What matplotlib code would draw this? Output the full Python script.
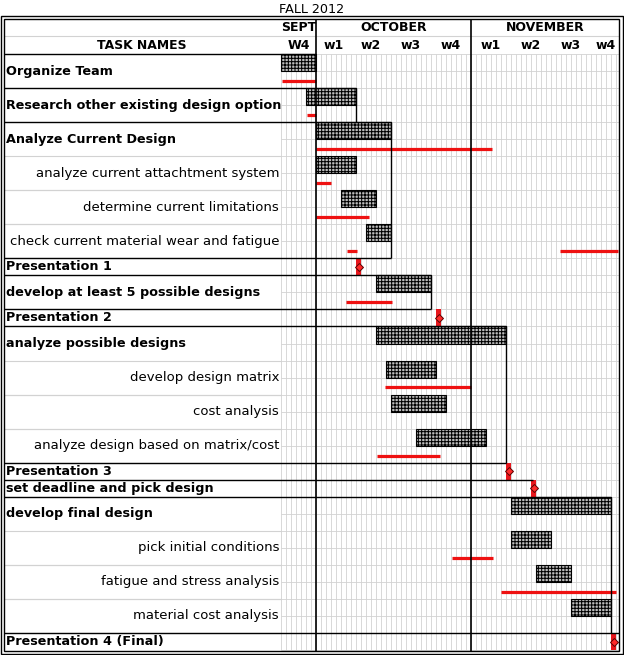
import matplotlib
matplotlib.use('Agg')
import matplotlib.pyplot as plt
import numpy as np

plt.rcParams.update({
    'font.family': 'DejaVu Sans',
    'hatch.linewidth': 0.75,
})

# ---- data -------------------------------------------------------------
# days counted from Sept 24 (start of SEPT W4)
tasks = [
    'Organize Team', 'Research other existing design option', 'Analyze Current Design',
    'analyze current attachtment system', 'determine current limitations',
    'check current material wear and fatigue', 'Presentation 1',
    'develop at least 5 possible designs', 'Presentation 2', 'analyze possible designs',
    'develop design matrix', 'cost analysis', 'analyze design based on matrix/cost',
    'Presentation 3', 'set deadline and pick design', 'develop final design',
    'pick initial conditions', 'fatigue and stress analysis', 'material cost analysis',
    'Presentation 4 (Final)',
]
is_main = [1, 1, 1, 0, 0, 0, 1, 1, 1, 1, 0, 0, 0, 1, 1, 1, 0, 0, 0, 1]
row_span = [2, 2, 2, 2, 2, 2, 1, 2, 1, 2, 2, 2, 2, 1, 1, 2, 2, 2, 2, 1]

plan_start = [0, 5, 7, 7, 12, 17, None, 19, None, 19, 21, 22, 27, None, None, 46, 46, 51, 58, None]
plan_end   = [7, 15, 22, 15, 19, 22, None, 30, None, 45, 31, 33, 41, None, None, 66, 54, 58, 66, None]

milestone_task = [6, 8, 13, 14, 19]
milestone_day  = [15, 31, 45, 50, 66]

actual = {
    0: [(0.2, 7)],
    1: [(5.2, 7)],
    2: [(7, 42.2)],
    3: [(7, 10)],
    4: [(7, 17.6)],
    5: [(13.2, 15.2), (55.8, 67.4)],
    7: [(13, 22.2)],
    10: [(20.8, 38)],
    12: [(19.2, 31.8)],
    16: [(34.2, 42.4)],
    17: [(44, 67)],
}

months = ['SEPT', 'OCTOBER', 'NOVEMBER']
month_bounds = [0, 7, 38, 67.6]
week_labels = ['W4', 'w1', 'w2', 'w3', 'w4', 'w1', 'w2', 'w3', 'w4']
week_pos = [3.5, 10.6, 18, 26, 34, 42, 50, 58, 65]

# black cell borders drawn on the sheet
sep_rows = [0, 2, 4, 12, 13, 15, 16, 24, 25, 26, 34]
sep_ends = [7, 15, 22, 22, 30, 30, 45, 45, 50.4, 66, 67.6]
box_day = [15, 22, 30, 45, 66]
box_top = [2, 4, 13, 16, 26]
box_bot = [4, 12, 15, 24, 34]

# ---- layout -----------------------------------------------------------
row_top = np.concatenate([[0], np.cumsum(row_span)[:-1]])
n_rows = int(np.sum(row_span))
LEFT, RIGHT = -55.4, 67.6          # inner border
TOP, BOTTOM = -2.06, n_rows + 0.06
HDR_MID = -1.06

fig = plt.figure(figsize=(6.24, 6.55), dpi=100)
ax = fig.add_axes([0, 0, 1, 1])
ax.set_xlim(-56.2, 68.6)
ax.set_ylim(35.29, -3.17)
ax.axis('off')

grid_c = '#d2d2d2'
# spreadsheet cell grid in the chart area
ax.vlines(np.arange(0, 68), 0, n_rows, color=grid_c, lw=0.6, zorder=1)
ax.hlines(np.arange(0, n_rows + 1), 0, RIGHT, color=grid_c, lw=0.6, zorder=1)
ax.hlines(HDR_MID, LEFT, RIGHT, color=grid_c, lw=0.8, zorder=1)

# light separators between sub-task rows in the name column
for i in range(len(tasks)):
    if not is_main[i]:
        ax.hlines([row_top[i], row_top[i] + row_span[i]], LEFT, 0, color=grid_c, lw=0.8, zorder=1)

# planned bars
for i in range(len(tasks)):
    if plan_start[i] is None:
        continue
    ax.barh(row_top[i] + 0.5, plan_end[i] - plan_start[i], left=plan_start[i], height=1.0,
            facecolor='#bcbcbc', edgecolor='black', hatch='+++++', linewidth=0.8, zorder=3)

# actual progress lines
for i, segs in actual.items():
    for s, e in segs:
        ax.hlines(row_top[i] + 1.58, s, e, color='#ee1111', lw=2.3, zorder=4)

# milestones
for t, d in zip(milestone_task, milestone_day):
    ax.barh(row_top[t] + 0.5, 1, left=d, height=1.0, color='#e8161c', linewidth=0, zorder=3)
    ax.plot(d + 0.5, row_top[t] + 0.5, marker='D', markersize=3.8, mfc='#ff2a2a',
            mec='#5a0000', mew=0.7, zorder=5)

# black borders
for r, e in zip(sep_rows, sep_ends):
    ax.hlines(r, LEFT, e, color='black', lw=1.0, zorder=6)
for d, t, b in zip(box_day, box_top, box_bot):
    ax.vlines(d, t, b, color='black', lw=1.0, zorder=6)
ax.vlines(month_bounds[1:3], TOP, BOTTOM, color='black', lw=1.2, zorder=6)

# double outer border
ax.add_patch(plt.Rectangle((LEFT, TOP), RIGHT - LEFT, BOTTOM - TOP, fill=False,
                           ec='black', lw=1.0, zorder=7))
ax.add_patch(plt.Rectangle((-56.0, -2.23), 124.4, 37.46, fill=False,
                           ec='black', lw=1.0, zorder=7))

# ---- text -------------------------------------------------------------
ax.text(6.2, -2.62, 'FALL 2012', ha='center', va='center', fontsize=9.2)
ax.text(-27.8, -0.52, 'TASK NAMES', ha='center', va='center', fontsize=8.9, fontweight='bold')
for m, a, b in zip(months, month_bounds[:-1], month_bounds[1:]):
    ax.text((a + b) / 2, -1.53, m, ha='center', va='center', fontsize=9, fontweight='bold')
for w, x in zip(week_labels, week_pos):
    ax.text(x, -0.52, w, ha='center', va='center', fontsize=9, fontweight='bold')

for i, name in enumerate(tasks):
    yc = row_top[i] + row_span[i] / 2
    if is_main[i]:
        ax.text(-55.0, yc, name, ha='left', va='center', fontsize=9.2, fontweight='bold')
    else:
        ax.text(-0.4, yc, name, ha='right', va='center', fontsize=9.5)

fig.savefig('out.png', dpi=100)
